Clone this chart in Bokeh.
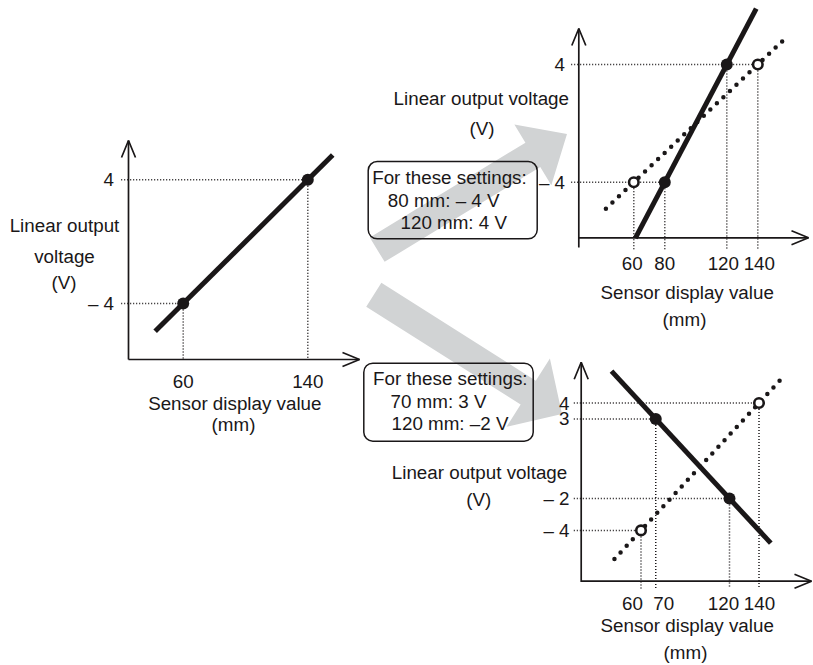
import numpy as np
from bokeh.plotting import figure
from bokeh.models import Range1d, BoxAnnotation
from bokeh.core.properties import value
from bokeh.embed import file_html
from bokeh.resources import INLINE

# ---------------- data ----------------
# Left chart: present setting of the linear output
orig_x = [60, 140]            # sensor display value (mm)
orig_v = [-4, 4]              # linear output voltage (V)
orig_line_x = [42, 156]       # drawn extent of that characteristic
orig_line_v = [-5.8, 5.6]

# Top-right chart: new setting  80 mm: -4 V, 120 mm: 4 V
set1_x = [80, 120]
set1_v = [-4, 4]
set1_line_x = [61, 139]
set1_line_v = [-7.8, 7.8]

# Bottom-right chart: new setting  70 mm: 3 V, 120 mm: -2 V
set2_x = [70, 120]
set2_v = [3, -2]
set2_line_x = [40, 148]
set2_line_v = [6.0, -4.8]

c1_xticks = [60, 140]
c1_xtick_labels = ["60", "140"]
c1_yticks = [4, -4]
c1_ytick_labels = ["4", "– 4"]

c2_xticks = [60, 80, 120, 140]
c2_xtick_labels = ["60", "80", "120", "140"]
c2_yticks = [4, -4]
c2_ytick_labels = ["4", "– 4"]

c3_xticks = [60, 70, 120, 140]
c3_xtick_labels = ["60", "70", "120", "140"]
c3_yticks = [4, 3, -2, -4]
c3_ytick_labels = ["4", "3", "– 2", "– 4"]

box1_lines = ["For these settings:", "80 mm: – 4 V", "120 mm: 4 V"]
box2_lines = ["For these settings:", "70 mm: 3 V", "120 mm: –2 V"]
x_title = ["Sensor display value", "(mm)"]

# ---------------- style / layout ----------------
INK = "#1a1718"
GRAY = "#d1d3d4"
FONT = "Liberation Sans"
FS = "18.8px"
W, H = 813, 665
OX, OY = 0, 0          # default ranges are in page pixels (y negated)

p = figure(width=W, height=H,
           x_range=Range1d(OX, OX + W), y_range=Range1d(-(OY + H), -OY),
           output_backend="svg", toolbar_location=None,
           x_axis_location=None, y_axis_location=None, min_border=0)
p.grid.visible = False
p.outline_line_color = None
p.background_fill_color = "white"
p.border_fill_color = "white"

ext_x, ext_y = {}, {}


def chart_scale(name, x_pair, y_pair):
    (xv0, xp0), (xv1, xp1) = x_pair
    bx = (xp1 - xp0) / (xv1 - xv0)
    ax = xp0 - bx * xv0
    (yv0, yp0), (yv1, yp1) = y_pair
    by = (yp1 - yp0) / (yv1 - yv0)
    ay = yp0 - by * yv0
    ext_x[name] = Range1d((OX - ax) / bx, (OX + W - ax) / bx)
    ext_y[name] = Range1d((OY + H - ay) / by, (OY - ay) / by)
    return (lambda px: (px - ax) / bx), (lambda py: (py - ay) / by)


charts = {
    "c1": dict(xp=((60, 182.7), (140, 307.3)), yp=((-4, 303.0), (4, 179.3)),
               ax_x=128, ax_y=359, top=140, bottom=359, right=359,
               g_left=120.7, g_bottom=359, ytick_r=113.5, xtick_y=381,
               xtick_dx=[0, 0]),
    "c2": dict(xp=((60, 633.3), (140, 757.3)), yp=((-4, 181.7), (4, 64.0)),
               ax_x=578.3, ax_y=237.3, top=28, bottom=247, right=808,
               g_left=570.7, g_bottom=249, ytick_r=564.5, xtick_y=263.3,
               xtick_dx=[-1.5, 0, -3.5, 1.5]),
    "c3": dict(xp=((60, 640.5), (140, 758.5)), yp=((-4, 529.9), (4, 402.5)),
               ax_x=580.7, ax_y=580.7, top=361.7, bottom=581.5, right=811,
               g_left=573.3, g_bottom=588, ytick_r=569, xtick_y=603.3,
               xtick_dx=[-8.5, 8, -6, 0.5]),
}
inv = {k: chart_scale(k, c["xp"], c["yp"]) for k, c in charts.items()}
p.extra_x_ranges = ext_x
p.extra_y_ranges = ext_y


def arrow_poly(tail, tip, shaft_w, head_w, head_len):
    t = np.array(tail, float)
    h = np.array(tip, float)
    u = (h - t) / np.linalg.norm(h - t)
    n = np.array([-u[1], u[0]])
    b = h - u * head_len
    pts = [t + n * shaft_w / 2, b + n * shaft_w / 2, b + n * head_w / 2, h,
           b - n * head_w / 2, b - n * shaft_w / 2, t - n * shaft_w / 2]
    return [q[0] for q in pts], [-q[1] for q in pts]


# big gray arrows (behind everything)
a1 = arrow_poly((376.7, 249.2), (566.5, 133.5), 28.5, 71, 40)
a2 = arrow_poly((373.3, 294.2), (561.5, 413.5), 28.3, 81, 40)
p.patches(xs=[a1[0], a2[0]], ys=[a1[1], a2[1]], fill_color=GRAY, line_color=None)


def txt(x, y, t, align="center", **kw):
    p.text(x=x, y=y, text=t, text_align=align, text_baseline="middle",
           text_font=value(FONT), text_font_size=FS, text_color=INK, **kw)


def draw_axes(c):
    x, y, top, bottom, right = c["ax_x"], c["ax_y"], c["top"], c["bottom"], c["right"]
    p.segment(x0=[x, x], y0=[-bottom, -y], x1=[x, right], y1=[-top, -y],
              line_color=INK, line_width=1.7)
    hl, hw = 17, 7
    p.multi_line(xs=[[x - hw, x, x + hw], [right - hl, right, right - hl]],
                 ys=[[-(top + hl), -top, -(top + hl)], [-(y - hw), -y, -(y + hw)]],
                 line_color=INK, line_width=1.7)


def draw_guides(name, c, pts_x, pts_v):
    xv, yv = inv[name]
    levels = sorted(set(pts_v))
    hx1 = [max(x for x, v in zip(pts_x, pts_v) if v == lv) for lv in levels]
    p.segment(x0=[xv(c["g_left"])] * len(levels), y0=levels, x1=hx1, y1=levels,
              x_range_name=name, y_range_name=name,
              line_color=INK, line_width=1.5, line_dash="1 2")
    vb = yv(c["g_bottom"])
    p.segment(x0=pts_x, y0=pts_v, x1=pts_x, y1=[vb] * len(pts_x),
              x_range_name=name, y_range_name=name,
              line_color=INK, line_width=1.5, line_dash="1 2")


def ticks(name, c, xt, xl, yt, yl):
    txt(xt, [-c["xtick_y"]] * len(xt), xl, x_range_name=name, x_offset=c["xtick_dx"])
    txt([c["ytick_r"]] * len(yt), yt, yl, align="right", y_range_name=name)


rng = lambda n: dict(x_range_name=n, y_range_name=n)

# ---- chart 1 (left) ----
c = charts["c1"]
draw_axes(c)
draw_guides("c1", c, orig_x, orig_v)
p.line(orig_line_x, orig_line_v, line_color=INK, line_width=5, **rng("c1"))
p.scatter(orig_x, orig_v, size=12, fill_color=INK, line_color=None, **rng("c1"))
ticks("c1", c, c1_xticks, c1_xtick_labels, c1_yticks, c1_ytick_labels)
txt([64, 64, 63.5], [-225, -255.5, -281.7], ["Linear output", "voltage", "(V)"])
txt([234.3, 233], [-403.3, -424], x_title)

# ---- chart 2 (top right) ----
c = charts["c2"]
draw_axes(c)
draw_guides("c2", c, orig_x + set1_x, orig_v + set1_v)
p.line(orig_line_x, orig_line_v, line_color=INK, line_width=4.5, line_dash="0 9",
       line_cap="round", **rng("c2"))
p.line(set1_line_x, set1_line_v, line_color=INK, line_width=5, **rng("c2"))
p.scatter(orig_x, orig_v, size=9.5, fill_color="white", line_color=INK, line_width=2.6, **rng("c2"))
p.scatter(set1_x, set1_v, size=12, fill_color=INK, line_color=None, **rng("c2"))
ticks("c2", c, c2_xticks, c2_xtick_labels, c2_yticks, c2_ytick_labels)
txt([480.8, 481.5], [-98.3, -128.3], ["Linear output voltage", "(V)"])
txt([686.7, 684], [-291.7, -319], x_title)

# ---- chart 3 (bottom right) ----
c = charts["c3"]
draw_axes(c)
draw_guides("c3", c, orig_x + set2_x, orig_v + set2_v)
p.line(orig_line_x, orig_line_v, line_color=INK, line_width=4.5, line_dash="0 9",
       line_cap="round", **rng("c3"))
p.line(set2_line_x, set2_line_v, line_color=INK, line_width=5, **rng("c3"))
p.scatter(orig_x, orig_v, size=9.5, fill_color="white", line_color=INK, line_width=2.6, **rng("c3"))
p.scatter(set2_x, set2_v, size=12, fill_color=INK, line_color=None, **rng("c3"))
ticks("c3", c, c3_xticks, c3_xtick_labels, c3_yticks, c3_ytick_labels)
txt([479, 478.3], [-471.7, -499.3], ["Linear output voltage", "(V)"])
txt([686.7, 685], [-625, -652], x_title)

# ---- setting boxes ----
for l, r, t, b in [(367.7, 536.7, 161, 238.3), (363.3, 532.7, 362.7, 440.7)]:
    p.add_layout(BoxAnnotation(left=l, right=r, top=-t, bottom=-b,
                               fill_color=None, fill_alpha=0, line_color=INK,
                               line_alpha=1, line_width=1.5, border_radius=9))
txt([371.7, 387.3, 400], [-176.7, -199.7, -222.2], box1_lines, align="left")
txt([372.5, 390, 391], [-378, -401, -423], box2_lines, align="left")

open("out.html", "w").write(file_html(p, INLINE))
